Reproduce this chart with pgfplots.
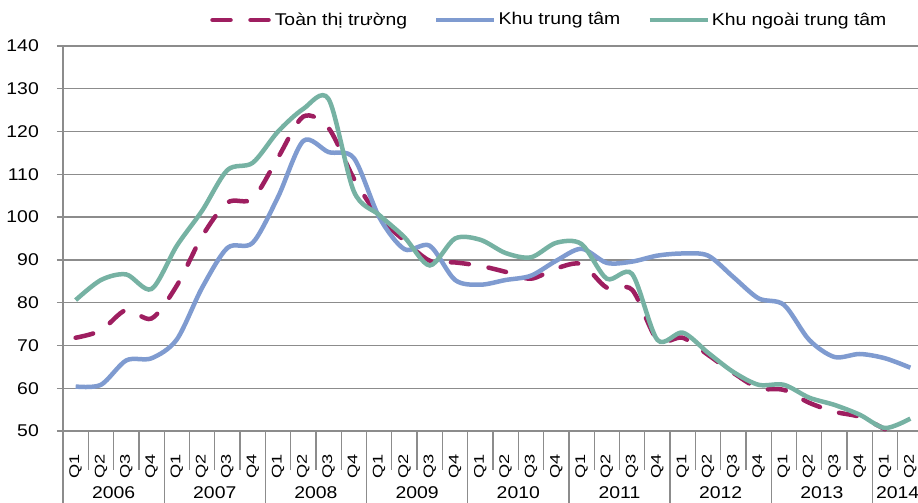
\documentclass[border=0pt]{standalone}
\usepackage{fontspec}
\setmainfont{Liberation Sans}[FakeStretch=1.14]
\newfontfamily\qfont{Liberation Sans}[FakeStretch=1.3]
\usepackage{pgfplots}
\pgfplotsset{compat=1.18}
\definecolor{cred}{RGB}{158,30,96}
\definecolor{cblue}{RGB}{127,155,208}
\definecolor{cgreen}{RGB}{118,178,163}
\definecolor{cgrid}{RGB}{140,140,140}
\begin{document}
\fontsize{17pt}{21pt}\selectfont
\begin{tikzpicture}
\begin{axis}[
  at={(63pt,72pt)}, anchor=south west,
  width=860pt, height=385pt, scale only axis,
  xmin=-0.5, xmax=33.5, ymin=50, ymax=140,
  clip=false,
  ytick={50,60,...,140},
  ymajorgrids, grid style={cgrid, line width=1.3pt},
  axis x line*=bottom, axis y line*=left,
  axis line style={cgrid, line width=1.3pt, -},
  y tick style={cgrid, line width=1.3pt},
  tick align=outside, major tick length=6pt,
  xtick={0,...,33},
  xticklabels={Q1,Q2,Q3,Q4,Q1,Q2,Q3,Q4,Q1,Q2,Q3,Q4,Q1,Q2,Q3,Q4,Q1,Q2,Q3,Q4,Q1,Q2,Q3,Q4,Q1,Q2,Q3,Q4,Q1,Q2,Q3,Q4,Q1,Q2},
  x tick style={draw=none},
  xticklabel style={rotate=90, anchor=east, inner sep=0pt, font=\qfont\fontsize{14pt}{16pt}\selectfont},
  xticklabel shift=17pt,
  yticklabel style={inner sep=0pt, xshift=-18pt},
  /pgf/number format/assume math mode=true,
  legend style={draw=none, fill=none, at={(0.171,1.0675)}, anchor=west,
    inner sep=0pt, nodes={inner sep=2pt},
    /tikz/every even column/.append style={column sep=25pt}},
  legend columns=3,
  legend image code/.code={\draw[#1] (0pt,0pt) -- (58pt,0pt);},
]
\addplot[cred, line width=4.5pt, dash pattern=on 18pt off 20pt, line cap=round, smooth] coordinates {
(0,71.8) (1,73.5) (2,78.3) (3,76.3) (4,84.0) (5,95.5) (6,103.4) (7,104.3) (8,113.9) (9,123.5) (10,120.8) (11,109.0) (12,100.0) (13,94.5) (14,89.8) (15,89.4) (16,88.6) (17,87.2) (18,85.6) (19,88.0) (20,89.0) (21,83.5) (22,83.0) (23,71.3) (24,71.8) (25,67.8) (26,63.6) (27,60.0) (28,59.6) (29,56.6) (30,54.5) (31,53.3) (32,50.4)
};
\addlegendentry{Toàn thị trường}
\addplot[cblue, line width=4.5pt, smooth] coordinates {
(0,60.4) (1,60.8) (2,66.5) (3,67.0) (4,71.4) (5,83.5) (6,92.8) (7,94.0) (8,104.7) (9,117.8) (10,115.2) (11,113.8) (12,100.0) (13,92.5) (14,93.3) (15,85.3) (16,84.2) (17,85.3) (18,86.3) (19,89.8) (20,92.6) (21,89.3) (22,89.6) (23,91.0) (24,91.5) (25,91.0) (26,86.0) (27,81.0) (28,79.5) (29,71.3) (30,67.3) (31,68.0) (32,67.0) (33,64.8)
};
\addlegendentry{Khu trung tâm}
\addplot[cgreen, line width=4.5pt, smooth] coordinates {
(0,80.6) (1,85.3) (2,86.6) (3,83.2) (4,93.3) (5,101.5) (6,111.0) (7,112.7) (8,120.0) (9,125.3) (10,127.6) (11,106.0) (12,100.5) (13,95.3) (14,88.7) (15,95.0) (16,94.7) (17,91.6) (18,90.6) (19,94.0) (20,93.7) (21,85.6) (22,86.7) (23,71.3) (24,73.0) (25,68.3) (26,63.8) (27,60.8) (28,60.8) (29,57.8) (30,56.1) (31,53.8) (32,50.7) (33,52.9)
};
\addlegendentry{Khu ngoài trung tâm}
\pgfplotsinvokeforeach{0,...,34}{\draw[cgrid, line width=1.3pt] (axis cs:#1-0.5,50) -- ++(0pt,-39pt);}
\pgfplotsinvokeforeach{0,4,...,32}{\draw[cgrid, line width=1.3pt] (axis cs:#1-0.5,50) -- ++(0pt,-72pt);}
\node at (axis cs:1.5,50) [yshift=-62pt] {2006};
\node at (axis cs:5.5,50) [yshift=-62pt] {2007};
\node at (axis cs:9.5,50) [yshift=-62pt] {2008};
\node at (axis cs:13.5,50) [yshift=-62pt] {2009};
\node at (axis cs:17.5,50) [yshift=-62pt] {2010};
\node at (axis cs:21.5,50) [yshift=-62pt] {2011};
\node at (axis cs:25.5,50) [yshift=-62pt] {2012};
\node at (axis cs:29.5,50) [yshift=-62pt] {2013};
\node at (axis cs:32.5,50) [yshift=-62pt] {2014};
\end{axis}
\pgfresetboundingbox
\path[use as bounding box] (0pt,0pt) rectangle (918pt,503pt);
\end{tikzpicture}
\end{document}
